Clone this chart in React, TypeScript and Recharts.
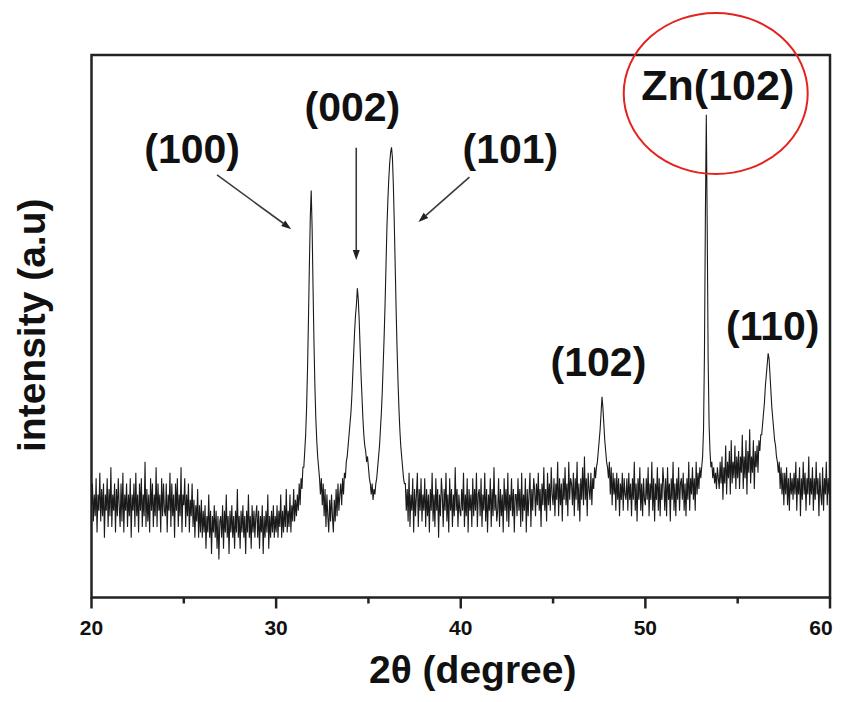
import React from 'react';
import { LineChart, Line, XAxis, YAxis, ReferenceArea, ReferenceLine, ReferenceDot } from 'recharts';

// 2θ sampling grid
const START_ANGLE = 20;
const STEP = 0.05;

const intensity: number[] = [
  17, 21, 14, 19, 15, 22, 12, 19, 16, 23, 14, 20, 15, 21, 11, 19, 16, 22, 13, 20,
  15, 24, 13, 19, 16, 21, 12, 20, 15, 22, 17, 13, 21, 14, 23, 12, 19, 16, 21, 13,
  19, 15, 22, 11, 19, 16, 21, 13, 23, 15, 19, 12, 21, 16, 22, 13, 19, 15, 25, 13,
  20, 14, 19, 12, 22, 16, 21, 13, 19, 15, 24, 13, 21, 16, 19, 12, 22, 15, 21, 16,
  15, 21, 12, 19, 16, 23, 13, 21, 15, 19, 11, 21, 16, 22, 13, 19, 15, 24, 12, 19,
  17, 22, 13, 19, 15, 21, 12, 18, 15, 21, 13, 18, 11, 17, 14, 20, 11, 17, 12, 18,
  11, 16, 12, 17, 9, 15, 12, 19, 11, 16, 8, 15, 12, 17, 11, 16, 9, 15, 7, 14,
  15, 11, 17, 9, 16, 12, 19, 11, 15, 8, 16, 12, 17, 11, 15, 9, 16, 12, 20, 11,
  15, 9, 16, 12, 17, 11, 15, 8, 16, 12, 19, 11, 15, 9, 17, 12, 16, 11, 15, 17,
  11, 16, 9, 15, 12, 17, 8, 15, 11, 16, 12, 19, 9, 15, 11, 16, 12, 17, 11, 15,
  12, 17, 11, 16, 13, 19, 11, 16, 12, 17, 13, 20, 12, 16, 13, 19, 12, 17, 14, 20,
  14, 18, 15, 19, 16, 21, 17, 22, 20, 24, 24, 27, 30, 35, 42, 51, 61, 70, 75, 68,
  57, 47, 39, 33, 29, 26, 24, 22, 19, 22, 17, 21, 15, 20, 13, 19, 15, 12, 18, 14,
  19, 15, 12, 18, 14, 20, 15, 21, 16, 19, 21, 17, 22, 19, 23, 22, 25, 26, 28, 30,
  32, 34, 37, 41, 45, 49, 52, 54, 57, 55, 51, 46, 41, 37, 33, 30, 28, 27, 25, 26,
  24, 22, 21, 19, 21, 18, 20, 19, 21, 22, 24, 26, 28, 31, 34, 38, 43, 48, 54, 61,
  68, 73, 77, 80, 82, 83, 81, 76, 69, 61, 53, 46, 40, 35, 31, 28, 26, 24, 22, 21,
  21, 16, 20, 14, 23, 13, 19, 16, 22, 12, 20, 15, 19, 23, 13, 20, 16, 22, 14, 19,
  16, 22, 13, 20, 15, 19, 12, 20, 16, 23, 14, 19, 13, 22, 16, 20, 11, 19, 15, 22,
  19, 13, 20, 16, 23, 14, 19, 12, 22, 16, 20, 13, 19, 15, 24, 16, 20, 13, 19, 16,
  15, 20, 16, 23, 13, 19, 15, 22, 12, 20, 16, 19, 13, 22, 15, 20, 16, 23, 13, 19,
  20, 15, 22, 13, 19, 16, 23, 14, 20, 12, 19, 16, 22, 13, 20, 15, 24, 16, 19, 14,
  16, 22, 13, 20, 15, 19, 12, 22, 16, 20, 14, 23, 13, 19, 16, 22, 15, 20, 12, 19,
  19, 15, 22, 16, 20, 13, 23, 14, 19, 16, 22, 12, 20, 15, 19, 23, 13, 20, 16, 22,
  20, 15, 21, 17, 23, 16, 20, 13, 21, 17, 24, 16, 20, 14, 23, 17, 21, 16, 24, 19,
  17, 22, 15, 21, 18, 25, 15, 22, 17, 21, 14, 22, 18, 24, 17, 21, 15, 25, 18, 22,
  21, 17, 23, 15, 22, 18, 25, 16, 21, 14, 22, 18, 24, 17, 26, 18, 22, 15, 23, 20,
  18, 23, 17, 22, 20, 24, 22, 24, 25, 27, 29, 31, 34, 37, 35, 32, 29, 27, 25, 24,
  22, 25, 19, 24, 17, 23, 19, 22, 16, 23, 18, 22, 15, 21, 18, 23, 16, 22, 19, 18,
  22, 16, 23, 18, 21, 15, 22, 18, 25, 16, 21, 14, 22, 18, 24, 16, 21, 15, 22, 18,
  17, 22, 18, 24, 15, 21, 18, 25, 16, 22, 14, 21, 18, 24, 16, 22, 15, 21, 18, 24,
  21, 16, 22, 15, 24, 18, 21, 14, 22, 18, 25, 16, 21, 15, 22, 18, 24, 16, 21, 22,
  18, 23, 16, 21, 15, 22, 18, 25, 16, 22, 19, 24, 18, 22, 16, 25, 19, 23, 20, 24,
  22, 24, 26, 31, 45, 70, 89, 68, 44, 32, 27, 24, 25, 22, 24, 21, 23, 20, 24, 22,
  20, 25, 21, 26, 18, 24, 21, 28, 19, 25, 22, 27, 19, 29, 21, 25, 22, 28, 20, 26,
  22, 27, 20, 26, 23, 30, 20, 26, 22, 29, 19, 27, 23, 31, 21, 26, 23, 29, 20, 27,
  24, 28, 23, 29, 27, 30, 30, 32, 34, 36, 39, 41, 43, 45, 44, 41, 38, 35, 33, 31,
  29, 28, 26, 25, 23, 25, 20, 24, 19, 23, 17, 23, 19, 24, 17, 22, 16, 23, 19, 22,
  18, 23, 19, 25, 16, 22, 19, 24, 15, 22, 18, 25, 19, 23, 16, 22, 19, 26, 17, 22,
  19, 24, 16, 22, 18, 25, 19, 22, 15, 23, 19, 17, 24, 16, 22, 19, 25, 17, 22, 19,
  21,
];

const xTicks = [20, 25, 30, 35, 40, 45, 50, 55, 60];
const majorTicks = [20, 30, 40, 50, 60];

const peakLabels = [
  { text: '(100)', x: 25.45, y: 80.1, size: 41 },
  { text: '(002)', x: 34.13, y: 87.8, size: 41 },
  { text: '(101)', x: 42.69, y: 80.1, size: 41 },
  { text: 'Zn(102)', x: 53.92, y: 91.7, size: 43 },
  { text: '(102)', x: 47.46, y: 40.8, size: 41 },
  { text: '(110)', x: 56.9, y: 47.5, size: 41 },
];

const arrows = [
  { x1: 26.8, y1: 77.9, x2: 30.82, y2: 67.9 },
  { x1: 34.34, y1: 82.9, x2: 34.34, y2: 62.2 },
  { x1: 40.47, y1: 77.5, x2: 37.71, y2: 69.2 },
];

const highlight = { x: 53.81, y: 92.9 };

const FONT = '"Liberation Sans", Arial, Helvetica, sans-serif';

const data = intensity.map((v, i) => ({
  angle: Math.round((START_ANGLE + i * STEP) * 100) / 100,
  intensity: v,
}));

const AngleTick = (p: any) => {
  const { x, y, payload } = p;
  const v = payload.value;
  const major = majorTicks.includes(v);
  const dx = v === xTicks[xTicks.length - 1] ? -9 : 0;
  return (
    <g>
      <line x1={x} y1={y} x2={x} y2={y + (major ? 11 : 6)} stroke="#222" strokeWidth={2.5} />
      {major && (
        <text x={x + dx} y={y + 37} textAnchor="middle" fontSize={21} fontWeight="bold" fill="#111" fontFamily={FONT}>
          {v}
        </text>
      )}
    </g>
  );
};

const ArrowShape = (p: any) => {
  const { x1, y1, x2, y2 } = p;
  const ang = Math.atan2(y2 - y1, x2 - x1);
  const L = 10;
  const W = 3.5;
  const bx = x2 - L * Math.cos(ang);
  const by = y2 - L * Math.sin(ang);
  const px = -Math.sin(ang) * W;
  const py = Math.cos(ang) * W;
  return (
    <g>
      <line x1={x1} y1={y1} x2={bx} y2={by} stroke="#3a3a3a" strokeWidth={1.6} />
      <polygon points={`${x2},${y2} ${bx + px},${by + py} ${bx - px},${by - py}`} fill="#222" />
    </g>
  );
};

export default function App() {
  return (
    <div style={{ width: 826, height: 686 }}>
      <LineChart
        width={826}
        height={686}
        data={data}
        margin={{ top: 47, right: 4, bottom: 36.5, left: 0 }}
      >
        <XAxis
          dataKey="angle"
          type="number"
          domain={[20, 60]}
          ticks={xTicks}
          interval={0}
          tickSize={0}
          tickMargin={0}
          tickLine={false}
          axisLine={false}
          height={60}
          tick={<AngleTick />}
          label={{
            content: (props: any) => {
              const vb = props.viewBox || { x: 83.5, y: 589.5, width: 738.5, height: 60 };
              return (
                <text
                  x={vb.x + vb.width / 2 + 12}
                  y={vb.y + 85}
                  textAnchor="middle"
                  fontSize={39}
                  fontWeight="bold"
                  fill="#111"
                  fontFamily={FONT}
                >
                  2θ (degree)
                </text>
              );
            },
          }}
        />
        <YAxis
          type="number"
          domain={[0, 100]}
          width={83.5}
          tick={false}
          tickLine={false}
          axisLine={false}
          label={{
            content: (props: any) => {
              const vb = props.viewBox || { x: 0, y: 47, width: 83.5, height: 542.5 };
              const cx = vb.x + 36.5;
              const cy = vb.y + vb.height / 2 - 1;
              return (
                <text
                  x={cx}
                  y={cy}
                  transform={`rotate(-90, ${cx}, ${cy})`}
                  textAnchor="middle"
                  fontSize={39}
                  fontWeight="bold"
                  fill="#111"
                  fontFamily={FONT}
                >
                  intensity (a.u)
                </text>
              );
            },
          }}
        />
        <ReferenceArea
          x1={20}
          x2={60}
          y1={0}
          y2={100}
          fill="none"
          fillOpacity={0}
          stroke="#222"
          strokeWidth={2.5}
          ifOverflow="visible"
        />
        <Line
          type="linear"
          dataKey="intensity"
          stroke="#1a1a1a"
          strokeWidth={1.1}
          dot={false}
          activeDot={false}
          isAnimationActive={false}
        />
        {arrows.map((a, i) => (
          <ReferenceLine
            key={`arrow-${i}`}
            segment={[
              { x: a.x1, y: a.y1 },
              { x: a.x2, y: a.y2 },
            ]}
            ifOverflow="visible"
            shape={ArrowShape}
          />
        ))}
        {peakLabels.map((l) => (
          <ReferenceDot
            key={l.text + l.x}
            x={l.x}
            y={l.y}
            ifOverflow="visible"
            shape={(p: any) => (
              <text
                x={p.cx}
                y={p.cy}
                textAnchor="middle"
                fontSize={l.size}
                fontWeight="bold"
                fill="#111"
                fontFamily={FONT}
              >
                {l.text}
              </text>
            )}
          />
        ))}
        <ReferenceDot
          x={highlight.x}
          y={highlight.y}
          ifOverflow="visible"
          shape={(p: any) => (
            <ellipse cx={p.cx} cy={p.cy} rx={92} ry={80.5} fill="none" stroke="#e3231e" strokeWidth={2} />
          )}
        />
      </LineChart>
    </div>
  );
}
